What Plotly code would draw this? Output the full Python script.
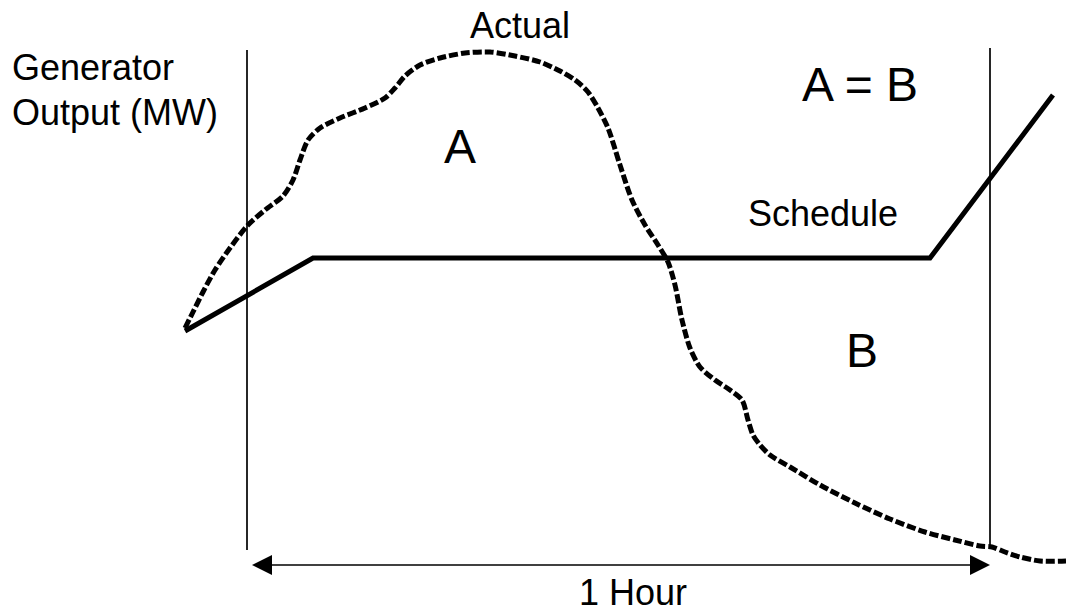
import plotly.graph_objects as go

# Schedule (solid) line, in picture coordinates (x right, y down)
schedule_x = [185, 313, 930, 1053]
schedule_y = [331, 258, 258, 95]

# Actual (dashed) curve
actual_x = [185, 193, 203, 215, 230, 248, 265, 283, 293, 300, 308, 320, 340, 365, 385,
            395, 405, 420, 440, 465, 490, 515, 540, 560, 575, 588, 598, 608, 620, 632,
            645, 658, 668, 675, 682, 690, 700, 715, 730, 742, 748, 753, 760, 770, 790,
            820, 855, 890, 925, 955, 980, 992, 1005, 1020, 1040, 1066]
actual_y = [328, 312, 292, 270, 248, 225, 210, 196, 180, 160, 140, 128, 118, 108, 98,
            88, 76, 65, 58, 53, 52, 56, 62, 71, 80, 92, 108, 128, 165, 200,
            225, 245, 262, 285, 320, 348, 367, 380, 390, 400, 420, 435, 445, 455, 467,
            485, 503, 519, 532, 540, 546, 547, 552, 557, 561, 561]

# Vertical boundaries of the hour
vline_x = [247, 990]
vline_top = [50, 48]
vline_bottom = [550, 548]

# Double-headed arrow
arrow_x = [252, 990]
arrow_y = 565
head_len = 20
head_half = 10

fig = go.Figure()

for x, t, b in zip(vline_x, vline_top, vline_bottom):
    fig.add_trace(go.Scatter(x=[x, x], y=[t, b], mode="lines",
                             line=dict(color="black", width=1.7), hoverinfo="skip"))

fig.add_trace(go.Scatter(x=schedule_x, y=schedule_y, mode="lines",
                         line=dict(color="black", width=5), hoverinfo="skip"))

fig.add_trace(go.Scatter(x=actual_x, y=actual_y, mode="lines",
                         line=dict(color="black", width=5, dash="9px,3px", shape="spline", smoothing=0.8),
                         hoverinfo="skip"))

# arrow shaft
fig.add_trace(go.Scatter(x=[arrow_x[0] + head_len - 2, arrow_x[1] - head_len + 2], y=[arrow_y, arrow_y],
                         mode="lines", line=dict(color="black", width=1.7), hoverinfo="skip"))
# arrow heads
fig.add_trace(go.Scatter(x=[arrow_x[0], arrow_x[0] + head_len, arrow_x[0] + head_len, arrow_x[0]],
                         y=[arrow_y, arrow_y - head_half, arrow_y + head_half, arrow_y],
                         fill="toself", fillcolor="black", mode="lines",
                         line=dict(color="black", width=0), hoverinfo="skip"))
fig.add_trace(go.Scatter(x=[arrow_x[1], arrow_x[1] - head_len, arrow_x[1] - head_len, arrow_x[1]],
                         y=[arrow_y, arrow_y - head_half, arrow_y + head_half, arrow_y],
                         fill="toself", fillcolor="black", mode="lines",
                         line=dict(color="black", width=0), hoverinfo="skip"))

font = "Liberation Sans, Arial, sans-serif"
texts = [
    ("Actual", 520, 25, 36, "center"),
    ("Generator", 10, 67, 36, "left"),
    ("Output (MW)", 10, 112, 36, "left"),
    ("A = B", 860, 84, 48, "center"),
    ("A", 460, 146, 48, "center"),
    ("Schedule", 823, 213, 36, "center"),
    ("B", 862, 350, 48, "center"),
    ("1 Hour", 633, 592, 36, "center"),
]
for t, x, y, s, al in texts:
    fig.add_annotation(x=x, y=y, text=t, showarrow=False, xanchor=al, yanchor="middle",
                       font=dict(family=font, size=s, color="black"))

fig.update_layout(
    width=1066, height=614, margin=dict(l=0, r=0, t=0, b=0),
    paper_bgcolor="white", plot_bgcolor="white", showlegend=False,
    xaxis=dict(range=[0, 1066], visible=False, fixedrange=True),
    yaxis=dict(range=[614, 0], visible=False, fixedrange=True),
)
# remove the default 8px page margin so the figure fills the window exactly
fig.write_html("out.html", config={"displayModeBar": False},
               post_script="document.body.style.margin='0px';")
